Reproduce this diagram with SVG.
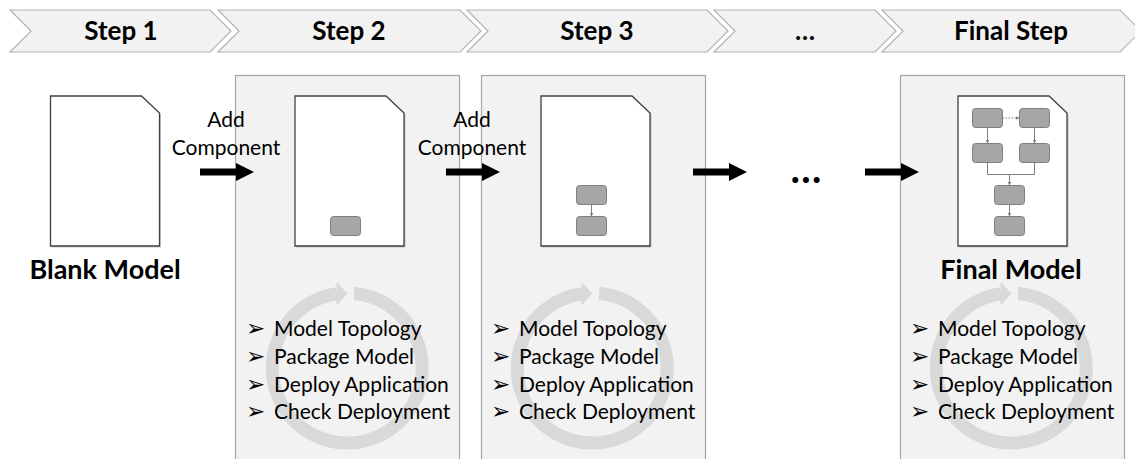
<svg xmlns="http://www.w3.org/2000/svg" width="1135" height="459" viewBox="0 0 1135 459">
  <style>
    .chev { fill: #f2f2f2; stroke: #b3b3b3; stroke-width: 1.2; }
    .panel { fill: #f2f2f2; stroke: #a6a6a6; stroke-width: 1.2; }
    .head { font-family: Lato, "Liberation Sans", sans-serif; font-weight: bold; font-size: 26px; fill: #000; text-anchor: middle; }
    .title { font-family: Lato, "Liberation Sans", sans-serif; font-weight: bold; font-size: 27px; fill: #000; text-anchor: middle; }
    .lbl { font-family: Lato, "Liberation Sans", sans-serif; font-size: 21px; fill: #000; text-anchor: middle; }
    .item { font-family: Lato, "Liberation Sans", sans-serif; font-size: 21px; fill: #000; }
    .bullet { font-family: "DejaVu Sans", sans-serif; font-weight: bold; font-size: 23px; fill: #000; }
    .doc { fill: #ffffff; stroke: #404040; stroke-width: 1.3; }
    .docshadow { fill: #8c8c8c; opacity: 0.45; }
    .comp { fill: #a6a6a6; stroke: #7f7f7f; stroke-width: 1; }
    .ring { fill: none; stroke: #d9d9d9; stroke-width: 13; }
    .ringhead { fill: #d9d9d9; }
    .big { fill: #000; }
    .link { fill: none; stroke: #7f7f7f; stroke-width: 1; }
    .dlink { fill: none; stroke: #7f7f7f; stroke-width: 1; stroke-dasharray: 1.5 1.5; }
  </style>
  <defs>
    <marker id="tip" viewBox="0 0 6 6" refX="6" refY="3" markerWidth="4" markerHeight="4" orient="auto" markerUnits="userSpaceOnUse">
      <path d="M0,0 L6,3 L0,6 z" fill="#7f7f7f"/>
    </marker>
    <!-- document page with a folded top-right corner, 109 x 150 -->
    <path id="page" d="M0,0 H91 L109,17 V150 H0 Z"/>
    <!-- recurring work loop: ring with arrowhead at the top -->
    <g id="loop">
      <path class="ring" d="M7,-74.7 A75,75 0 1 1 -10,-74.3"/>
      <path class="ringhead" d="M-10.5,-86 L0.5,-74.4 L-10.5,-62.5 Z"/>
    </g>
    <g id="tasks">
      <text class="bullet" x="0" y="0">➢</text>
      <text class="bullet" x="0" y="28">➢</text>
      <text class="bullet" x="0" y="55.5">➢</text>
      <text class="bullet" x="0" y="83">➢</text>
      <text class="item" x="28" y="0">Model Topology</text>
      <text class="item" x="28" y="28">Package Model</text>
      <text class="item" x="28" y="55.5">Deploy Application</text>
      <text class="item" x="28" y="83">Check Deployment</text>
    </g>
  </defs>

  <!-- step header chevrons -->
  <g id="step-1">
    <polygon class="chev" points="10,10 210,10 231,31 210,52 10,52 31,31"/>
    <text class="head" x="121" y="40">Step 1</text>
  </g>
  <g id="step-2">
    <polygon class="chev" points="218,10 460,10 481,31 460,52 218,52 239,31"/>
    <text class="head" x="349" y="40">Step 2</text>
  </g>
  <g id="step-3">
    <polygon class="chev" points="467,10 707,10 728,31 707,52 467,52 488,31"/>
    <text class="head" x="597" y="40">Step 3</text>
  </g>
  <g id="step-more">
    <polygon class="chev" points="714,10 875,10 896,31 875,52 714,52 735,31"/>
    <text class="head" x="805" y="40">…</text>
  </g>
  <g id="step-final">
    <polygon class="chev" points="882,10 1120,10 1141,31 1120,52 882,52 903,31"/>
    <text class="head" x="1011" y="40">Final Step</text>
  </g>

  <!-- per-step work panels -->
  <g id="panel-2">
    <rect class="panel" x="235.5" y="75.5" width="224" height="390"/>
    <use href="#loop" x="347" y="368"/>
    <use href="#tasks" x="246" y="336"/>
  </g>
  <g id="panel-3">
    <rect class="panel" x="481.5" y="75.5" width="224" height="390"/>
    <use href="#loop" x="592" y="368"/>
    <use href="#tasks" x="491" y="336"/>
  </g>
  <g id="panel-final">
    <rect class="panel" x="900.5" y="75.5" width="224" height="390"/>
    <use href="#loop" x="1011" y="368"/>
    <use href="#tasks" x="910" y="336"/>
  </g>

  <!-- models -->
  <g id="model-blank">
    <use href="#page" class="docshadow" x="52" y="97.5"/>
    <use href="#page" class="doc" x="50.5" y="96"/>
    <text class="title" x="105" y="279">Blank Model</text>
  </g>
  <g id="model-step-2">
    <use href="#page" class="docshadow" x="296.5" y="97.5"/>
    <use href="#page" class="doc" x="295" y="96"/>
    <rect class="comp" x="330.5" y="216.5" width="30" height="19" rx="3"/>
  </g>
  <g id="model-step-3">
    <use href="#page" class="docshadow" x="542.5" y="97.5"/>
    <use href="#page" class="doc" x="541" y="96"/>
    <rect class="comp" x="576.5" y="185.5" width="30" height="19" rx="3"/>
    <rect class="comp" x="576.5" y="216.5" width="30" height="19" rx="3"/>
  </g>
  <g id="model-final">
    <use href="#page" class="docshadow" x="959.5" y="97.5"/>
    <use href="#page" class="doc" x="958" y="96"/>
    <rect class="comp" x="972.5" y="108.5" width="30" height="19" rx="3"/>
    <rect class="comp" x="1019.5" y="108.5" width="30" height="19" rx="3"/>
    <rect class="comp" x="972.5" y="143.5" width="30" height="19" rx="3"/>
    <rect class="comp" x="1019.5" y="143.5" width="30" height="19" rx="3"/>
    <rect class="comp" x="994.5" y="185.5" width="30" height="19" rx="3"/>
    <rect class="comp" x="994.5" y="216.5" width="30" height="19" rx="3"/>
    <text class="title" x="1011" y="279">Final Model</text>
  </g>

  <!-- transition labels -->
  <g id="label-add-1">
    <text class="lbl" x="226" y="127">Add</text>
    <text class="lbl" x="226" y="155">Component</text>
  </g>
  <g id="label-add-2">
    <text class="lbl" x="472" y="127">Add</text>
    <text class="lbl" x="472" y="155">Component</text>
  </g>
  <g id="ellipsis">
    <text class="head" x="806" y="183" style="font-size:40px">…</text>
  </g>

  <!-- connectors -->
  <g id="connectors">
    <polygon class="big" points="200,168.5 236,168.5 236,163 254,172 236,181 236,175.5 200,175.5"/>
    <polygon class="big" points="446,168.5 482,168.5 482,163 500,172 482,181 482,175.5 446,175.5"/>
    <polygon class="big" points="693,168.5 729,168.5 729,163 747,172 729,181 729,175.5 693,175.5"/>
    <polygon class="big" points="865,168.5 901,168.5 901,163 919,172 901,181 901,175.5 865,175.5"/>

    <path class="link" d="M591.5,204.5 V216.5" marker-end="url(#tip)"/>

    <path class="dlink" d="M1002.5,118 H1019.5" marker-end="url(#tip)"/>
    <path class="link" d="M987.5,127.5 V143.5" marker-end="url(#tip)"/>
    <path class="link" d="M1034.5,127.5 V143.5" marker-end="url(#tip)"/>
    <path class="link" d="M987.5,162.5 V174.5 H1034.5 V162.5"/>
    <path class="link" d="M1009.5,174.5 V185.5" marker-end="url(#tip)"/>
    <path class="link" d="M1009.5,204.5 V216.5" marker-end="url(#tip)"/>
  </g>
</svg>
